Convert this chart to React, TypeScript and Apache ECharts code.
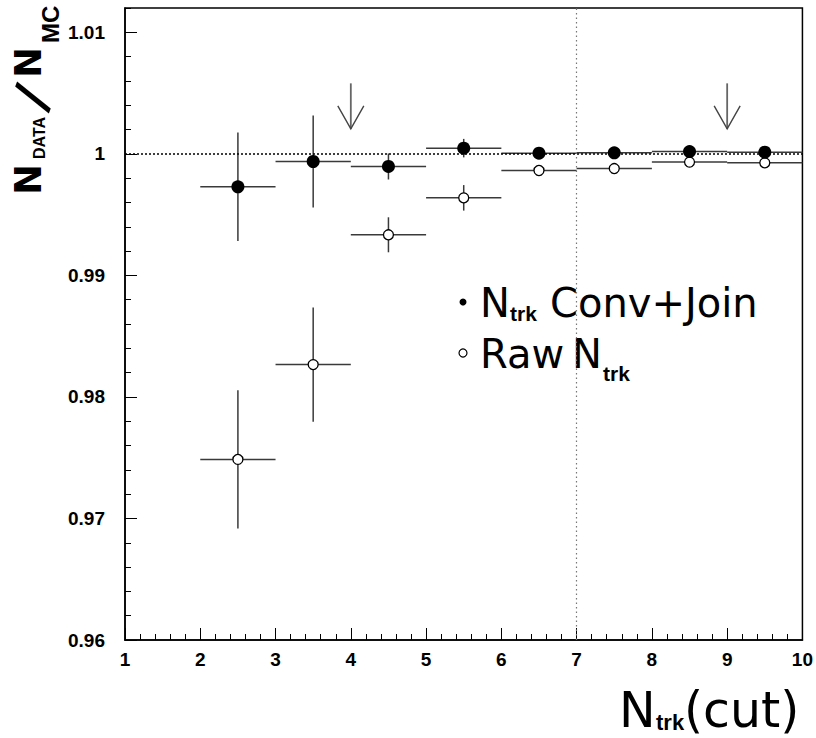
import { useEffect, useRef } from 'react';
import * as echarts from 'echarts';

// Bin centres in N_trk(cut) and half bin width
const binCenters = [2.5, 3.5, 4.5, 5.5, 6.5, 7.5, 8.5, 9.5];
const binHalfWidth = 0.5;

// N_DATA / N_MC after conversion + join
const convJoinRatio = [0.99729, 0.99937, 0.99896, 1.00047, 1.00005, 1.00008, 1.00019, 1.00014];
const convJoinError = [0.00447, 0.00378, 0.00107, 0.00076, 0.0003, 0.0003, 0.0002, 0.0002];

// N_DATA / N_MC with raw track counts
const rawRatio = [0.97486, 0.98266, 0.99334, 0.99638, 0.99863, 0.99879, 0.99932, 0.99926];
const rawError = [0.00568, 0.0047, 0.00144, 0.00105, 0.0003, 0.0003, 0.0002, 0.0002];

// Cut markers drawn as downward arrows
const cutArrowX = [4, 9];
const cutArrowTip = 1.00205;
const cutArrowTail = 1.0058;

// Reference lines
const referenceRatio = 1;
const referenceCut = 7;

// Axis ranges
const xRange = [1, 10];
const yRange = [0.96, 1.012];

const INK = '#000';
const BAR = '#3a3a3a';
const LABEL_FONT = '"Liberation Sans", Arial, sans-serif';
const TITLE_FONT = '"DejaVu Sans", sans-serif';
const SUB_FONT = '"Liberation Sans", Arial, sans-serif';

const errorBarItem = (_params: any, api: any) => {
  const x = api.value(0);
  const y = api.value(1);
  const e = api.value(2);
  const left = api.coord([x - binHalfWidth, y]);
  const right = api.coord([x + binHalfWidth, y]);
  const top = api.coord([x, y + e]);
  const bottom = api.coord([x, y - e]);
  const style = { stroke: BAR, lineWidth: 1.5, fill: null };
  return {
    type: 'group',
    children: [
      { type: 'line', shape: { x1: left[0], y1: left[1], x2: right[0], y2: right[1] }, style },
      { type: 'line', shape: { x1: top[0], y1: top[1], x2: bottom[0], y2: bottom[1] }, style },
    ],
  };
};

const arrowItem = (_params: any, api: any) => {
  const x = api.value(0);
  const tip = api.coord([x, cutArrowTip]);
  const tail = api.coord([x, cutArrowTail]);
  const style = { stroke: '#444', lineWidth: 1.4, fill: null };
  return {
    type: 'group',
    children: [
      { type: 'line', shape: { x1: tail[0], y1: tail[1], x2: tip[0], y2: tip[1] }, style: { ...style, lineWidth: 1.8, stroke: '#666' } },
      {
        type: 'polyline',
        shape: { points: [[tip[0] - 13, tip[1] - 23], [tip[0], tip[1]], [tip[0] + 13, tip[1] - 23]] },
        style,
      },
    ],
  };
};

const txt = (text: string, x: number, y: number, font: string, extra: any = {}) => {
  const { center, ...transform } = extra;
  return {
    type: 'text',
    ...transform,
    style: {
      text,
      x,
      y,
      font,
      fill: INK,
      align: center ? 'center' : 'left',
      verticalAlign: 'middle',
      textAlign: center ? 'center' : 'left',
      textVerticalAlign: 'middle',
    },
  };
};

export default function App() {
  const ref = useRef<HTMLDivElement>(null);

  useEffect(() => {
    if (!ref.current) return;
    const chart = echarts.init(ref.current, null, { renderer: 'svg' });

    const convData = binCenters.map((x, i) => [x, convJoinRatio[i], convJoinError[i]]);
    const rawData = binCenters.map((x, i) => [x, rawRatio[i], rawError[i]]);

    const option: any = {
      animation: false,
      backgroundColor: '#fff',
      grid: {
        left: 125,
        right: 10,
        top: 8,
        bottom: 98,
        show: true,
        borderColor: INK,
        borderWidth: 1.5,
        backgroundColor: 'transparent',
      },
      xAxis: {
        type: 'value',
        min: xRange[0],
        max: xRange[1],
        interval: 1,
        axisLine: { show: true, onZero: false, lineStyle: { color: INK, width: 1.5 } },
        axisTick: { show: true, inside: true, length: 12, lineStyle: { color: INK, width: 1 } },
        minorTick: { show: true, splitNumber: 5, length: 6, lineStyle: { color: INK, width: 1 } },
        splitLine: { show: false },
        minorSplitLine: { show: false },
        axisLabel: {
          color: INK,
          fontSize: 19,
          fontWeight: 'bold',
          fontFamily: LABEL_FONT,
          margin: 10,
          showMaxLabel: true,
          showMinLabel: true,
        },
      },
      yAxis: [
        {
          // fine ticks every 0.002
          type: 'value',
          min: yRange[0],
          max: yRange[1],
          interval: 0.002,
          axisLine: { show: true, onZero: false, lineStyle: { color: INK, width: 1.5 } },
          axisTick: { show: true, inside: true, length: 6, lineStyle: { color: INK, width: 1 } },
          splitLine: { show: false },
          axisLabel: { show: false },
        },
        {
          // labelled ticks every 0.01
          type: 'value',
          position: 'left',
          min: yRange[0],
          max: yRange[1],
          interval: 0.01,
          axisLine: { show: false },
          axisTick: { show: true, inside: true, length: 12, lineStyle: { color: INK, width: 1 } },
          splitLine: { show: false },
          axisLabel: {
            color: INK,
            fontSize: 19,
            fontWeight: 'bold',
            fontFamily: LABEL_FONT,
            margin: 20,
            showMaxLabel: false,
          },
        },
      ],
      series: [
        {
          type: 'custom',
          name: 'raw-bars',
          renderItem: errorBarItem,
          data: rawData,
          encode: { x: 0, y: 1 },
          z: 2,
          silent: true,
        },
        {
          type: 'custom',
          name: 'conv-bars',
          renderItem: errorBarItem,
          data: convData,
          encode: { x: 0, y: 1 },
          z: 2,
          silent: true,
        },
        {
          type: 'custom',
          name: 'cut-arrows',
          renderItem: arrowItem,
          data: cutArrowX.map((x) => [x]),
          encode: { x: 0 },
          z: 2,
          silent: true,
        },
        {
          type: 'scatter',
          name: 'Raw Ntrk',
          data: rawData.map((d) => [d[0], d[1]]),
          symbol: 'circle',
          symbolSize: 10,
          itemStyle: { color: '#fff', borderColor: INK, borderWidth: 1.3, opacity: 1 },
          z: 4,
          silent: true,
          markLine: {
            silent: true,
            symbol: 'none',
            label: { show: false },
            data: [
              { yAxis: referenceRatio, lineStyle: { color: INK, type: [2, 2], width: 1.5 } },
              { xAxis: referenceCut, lineStyle: { color: '#777', type: [1.5, 3], width: 1.2 } },
            ],
          },
        },
        {
          type: 'scatter',
          name: 'Ntrk Conv+Join',
          data: convData.map((d) => [d[0], d[1]]),
          symbol: 'circle',
          symbolSize: 13,
          itemStyle: { color: INK, opacity: 1 },
          z: 5,
          silent: true,
        },
      ],
      graphic: [
        // legend
        { type: 'circle', shape: { cx: 463, cy: 302, r: 3.5 }, style: { fill: INK } },
        txt('N', 480, 303, `40px ${TITLE_FONT}`),
        txt('trk', 510, 313, `bold 21px ${SUB_FONT}`),
        txt('Conv+Join', 550, 303, `40px ${TITLE_FONT}`),
        { type: 'circle', shape: { cx: 463, cy: 353, r: 4 }, style: { fill: '#fff', stroke: INK, lineWidth: 1.2 } },
        txt('Raw', 480, 354, `40px ${TITLE_FONT}`),
        txt('N', 572, 354, `40px ${TITLE_FONT}`),
        txt('trk', 603, 373, `bold 21px ${SUB_FONT}`),
        // x axis title
        txt('N', 619, 710, `49px ${TITLE_FONT}`),
        txt('trk', 656, 722, `bold 22px ${SUB_FONT}`),
        txt('(cut)', 684, 710, `49px ${TITLE_FONT}`),
        // y axis title, reading upwards
        {
          type: 'group',
          x: 42,
          y: 195,
          rotation: Math.PI / 2,
          children: [
            txt('N', 0, -13.5, `bold 37px ${TITLE_FONT}`),
            txt('DATA', 36, -3, `bold 16px ${SUB_FONT}`),
            txt('/', 0, 0, `bold 50px ${TITLE_FONT}`, { x: 98, y: -10, rotation: -0.37, center: true }),
            txt('N', 117, -13.5, `bold 37px ${TITLE_FONT}`),
            txt('MC', 152, 8, `bold 24px ${SUB_FONT}`),
          ],
        },
      ],
    };

    chart.setOption(option);
    return () => chart.dispose();
  }, []);

  return (
    <div
      ref={ref}
      style={{ position: 'fixed', left: 0, top: 0, width: 816, height: 738, background: '#fff' }}
    />
  );
}
